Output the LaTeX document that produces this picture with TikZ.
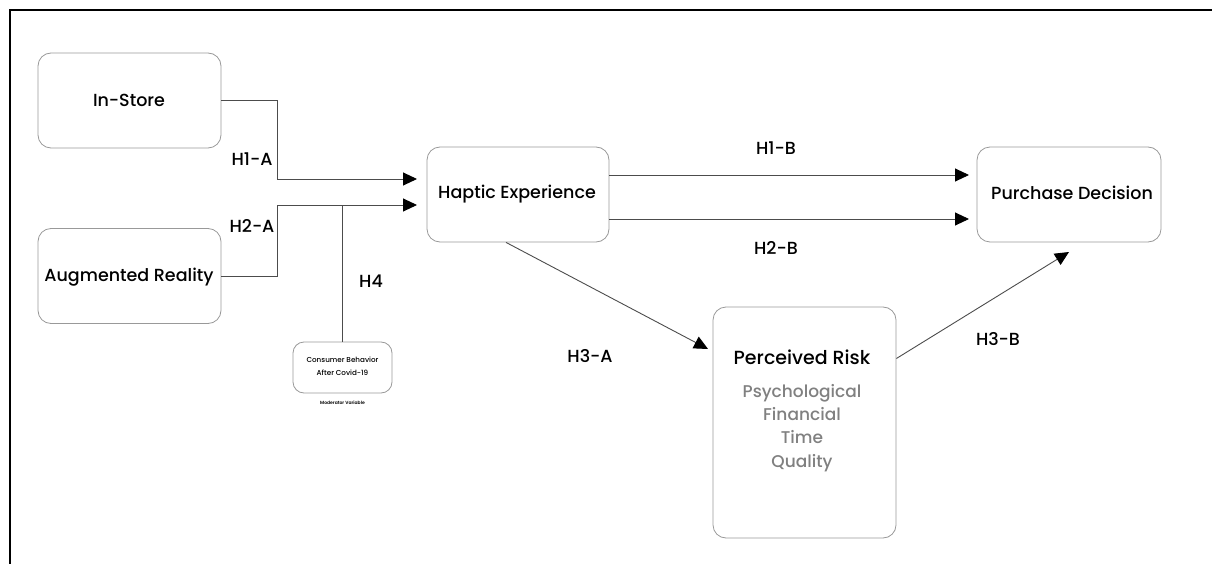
\documentclass[tikz,border=0pt]{standalone}
\usepackage{fontspec}
\setmainfont{Poppins}[UprightFont={* Medium}, BoldFont={* SemiBold}]
\usepackage{tikz}
\usetikzlibrary{arrows.meta}

\tikzset{
  box/.style={draw=black!40, line width=0.8pt, rounded corners=13pt, fill=white},
  conn/.style={draw=black!70, line width=0.9pt},
  arr/.style={conn, -{Triangle[length=14pt,width=13pt,color=black]}},
  hyp/.style={font=\fontsize{17.5}{20}\selectfont},
  boxtext/.style={font=\fontsize{17.5}{20}\selectfont},
}

\begin{document}
\begin{tikzpicture}[x=1pt,y=-1pt]
			\useasboundingbox (0,0) rectangle (1212,564);
			\draw[black, line width=2pt](10,564) -- (10,10) -- (1212,10);

			% boxes
			\node[box, minimum width=183pt, minimum height=95pt] (instore) at (129.5,100.5){};
			\node[box, minimum width=183pt, minimum height=95pt] (ar) at (129.5,276){};
			\node[box, minimum width=182pt, minimum height=95pt] (haptic) at (518,194.5){};
			\node[box, minimum width=184pt, minimum height=95pt] (purchase) at (1069,194.5){};
			\node[box, minimum width=183pt, minimum height=231pt] (risk) at (804.5,422.5){};
			\node[box, rounded corners=11pt, minimum width=99pt, minimum height=51pt] (cb) at (342.5,367.5){};

			\node[boxtext] (instoretxt) at (129,100){In-Store};
			\node[boxtext] (artxt) at (129,277){Augmented Reality};
			\node[boxtext] (haptictxt) at (517,194){Haptic Experience};
			\node[boxtext] (purchasetxt) at (1072,193){Purchase Decision};
			\node[font=\fontsize{19}{22}\selectfont] (risktxt) at (802,357){Perceived Risk};
			\node[text=black!50, align=center, font=\fontsize{17}{23.3}\selectfont] (risksub) at (802,428){Psychological\\Financial\\Time\\Quality};
			\node[align=center, font=\fontsize{7.2}{12.7}\selectfont] (cbtxt) at (342.5,366){Consumer Behavior\\After Covid-19};
			\node[font=\bfseries\fontsize{4.5}{5}\selectfont] (modtxt) at (342.5,403){Moderator Variable};

			% arrow ends
			\coordinate (h1a) at (417,179);
			\coordinate (h2a) at (417,205);
			\coordinate (h1b) at (969,175);
			\coordinate (h2b) at (969,219);
			\coordinate (h3a) at (708,349);
			\coordinate (h3b) at (1069,252);

			% connectors
			\draw[arr] (instore.east) -- ++(56,0) |- (h1a);
			\draw[arr] (ar.east) -- ++(56,0) |- (h2a);
			\draw[conn] (cb.north) -- (cb.north |- h2a);
			\draw[arr] (haptic.east |- h1b) -- (h1b);
			\draw[arr] (haptic.east |- h2b) -- (h2b);
			\draw[arr] ([xshift=-12pt]haptic.south) -- (h3a);
			\draw[arr] ([yshift=64pt]risk.east) -- (h3b);

			% labels
			\node[hyp] (l1a) at (252,159){H1-A};
			\node[hyp] (l2a) at (252,226){H2-A};
			\node[hyp] (l4) at (371,281){H4};
			\node[hyp] (l1b) at (776,148){H1-B};
			\node[hyp] (l2b) at (776,248){H2-B};
			\node[hyp] (l3a) at (590,356){H3-A};
			\node[hyp] (l3b) at (998,339){H3-B};
		\end{tikzpicture}
\end{document}
